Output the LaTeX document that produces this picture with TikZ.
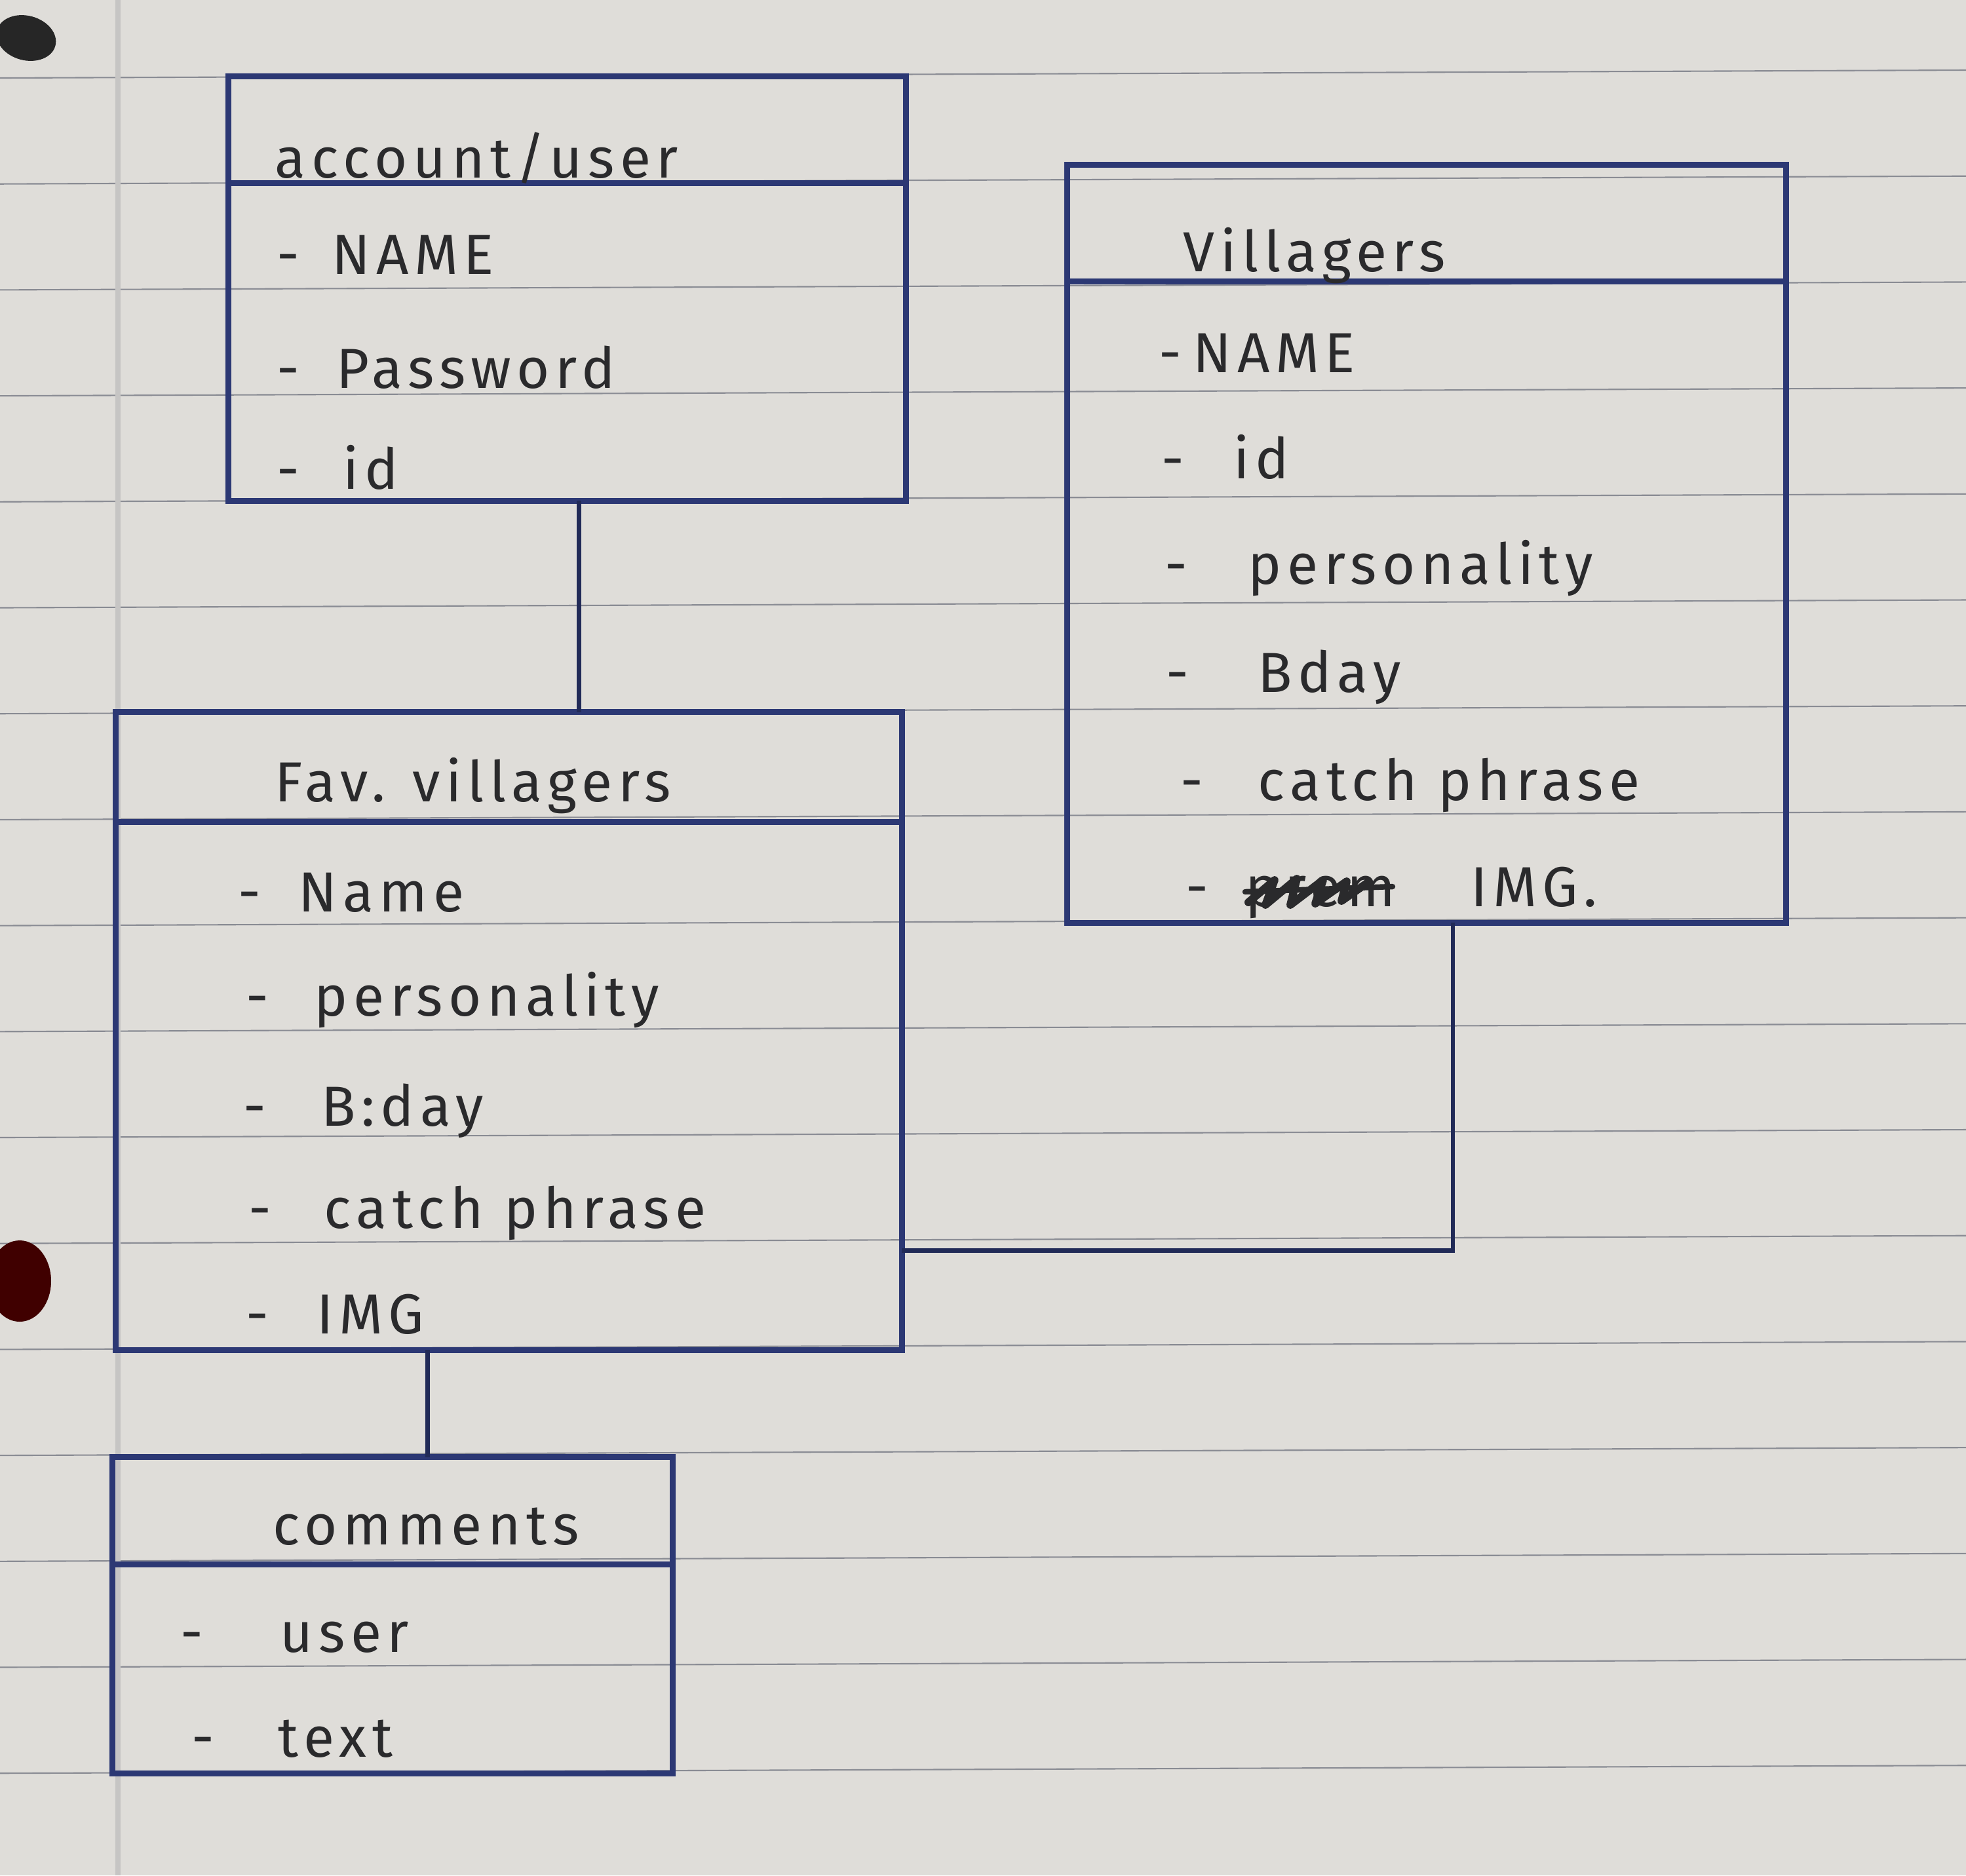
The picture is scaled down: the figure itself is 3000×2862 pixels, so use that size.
\documentclass[tikz,border=0pt]{standalone}
\usepackage{fontspec}
\setmainfont{Fira Sans}[LetterSpace=10]
\usepackage{xcolor}
\usetikzlibrary{calc}
\definecolor{paper}{RGB}{223,221,217}
\definecolor{ink}{RGB}{44,56,116}
\definecolor{pencil}{RGB}{42,42,44}
\definecolor{ruleline}{RGB}{138,140,148}
\newcommand{\dsh}[1]{\makebox[#1][l]{-}}

\begin{document}
\begin{tikzpicture}[x=0.01cm, y=-0.01cm,
  box/.style={draw=ink, line width=2.6pt, inner sep=0pt, outer sep=0pt},
  link/.style={draw=ink!75!black, line width=1.8pt},
  ttl/.style={anchor=base west, inner sep=0pt, text=pencil, font=\fontsize{24.5}{29}\selectfont},
  scrib/.style={draw=pencil, line width=3.4pt, line join=round, line cap=round}]
\useasboundingbox (0,0) rectangle (3000,2862);
\clip (0,0) rectangle (3000,2862);
\fill[paper] (0,0) rectangle (3000,2862);
\foreach \k in {0,...,16}
  \draw[ruleline, line width=0.6pt] (0,119+161.7*\k) -- (3000,107+161.7*\k);
\draw[ruleline!30!paper, line width=2pt] (180,0) -- (180,2862);
\fill[black!85] (40,58) ellipse [x radius=46, y radius=34, rotate=-15];
\fill[red!25!black] (30,1955) ellipse [x radius=48, y radius=62];

% account/user
\node[box, minimum width=10.33cm, minimum height=6.47cm] (acct) at (865.5,440.5) {};
\draw[box] ($(acct.north west)+(0,163)$) -- ($(acct.north east)+(0,163)$);
\node[ttl] (acct-t) at (419,271) {account/user};
\foreach \i/\x/\y/\g/\t in {1/422/418/0.84/NAME, 2/422/592/0.91/Password, 3/422/746/1.01/id}
  \node[ttl] (acct-\i) at (\x,\y) {\dsh{\g cm}\t};

% Villagers
\node[box, minimum width=10.96cm, minimum height=11.56cm] (vill) at (2177,830) {};
\draw[box] ($(vill.north west)+(0,178)$) -- ($(vill.north east)+(0,178)$);
\node[ttl] (vill-t) at (1805,414) {Villagers};
\foreach \i/\x/\y/\g/\t in {1/1768/568/0.52/NAME, 2/1772/730/1.10/id, 3/1777/891/1.27/personality,
    4/1779/1056/1.40/Bday, 5/1801/1221/1.18/catch phrase, 6/1809/1383/0.91/prem}
  \node[ttl] (vill-\i) at (\x,\y) {\dsh{\g cm}\t};
\node[ttl] (vill-img) at (2244,1383) {IMG.};
\draw[scrib] ($(vill-6.base east)+(-225,-6)$) -- ++(40,-34) -- ++(-14,38) -- ++(48,-40)
  -- ++(-10,40) -- ++(50,-38) -- ++(-12,36) -- ++(48,-34) -- ++(-8,30) -- ++(40,-28);
\draw[scrib, line width=2.4pt] ($(vill-6.base east)+(-230,-22)$) -- ++(225,-8);

% Fav. villagers
\node[box, minimum width=11.99cm, minimum height=9.73cm] (fav) at (776.5,1573.5) {};
\draw[box] ($(fav.north west)+(0,168)$) -- ($(fav.north east)+(0,168)$);
\node[ttl] (fav-t) at (419,1223) {Fav. villagers};
\foreach \i/\x/\y/\g/\t in {1/363/1391/0.92/Name, 2/375/1550/1.04/personality, 3/371/1718/1.19/B:day,
    4/379/1874/1.15/catch phrase, 5/375/2035/1.08/IMG}
  \node[ttl] (fav-\i) at (\x,\y) {\dsh{\g cm}\t};

% comments
\node[box, minimum width=8.54cm, minimum height=4.82cm] (comm) at (599,2465) {};
\draw[box] ($(comm.north west)+(0,164)$) -- ($(comm.north east)+(0,164)$);
\node[ttl] (comm-t) at (416,2357) {comments};
\foreach \i/\x/\y/\g/\t in {1/275/2521/1.52/user, 2/292/2681/1.32/text}
  \node[ttl] (comm-\i) at (\x,\y) {\dsh{\g cm}\t};

% links
\coordinate (a1) at ($(acct.south)+(18,0)$);
\coordinate (f1) at ($(fav.south)+(-124,0)$);
\coordinate (f2) at ($(fav.north east)!0.844!(fav.south east)$);
\coordinate (v1) at ($(vill.south)+(40,0)$);
\draw[link] (a1) -- (a1 |- fav.north);
\draw[link] (f1) -- (f1 |- comm.north);
\draw[link] (f2) -| (v1);
\end{tikzpicture}
\end{document}
